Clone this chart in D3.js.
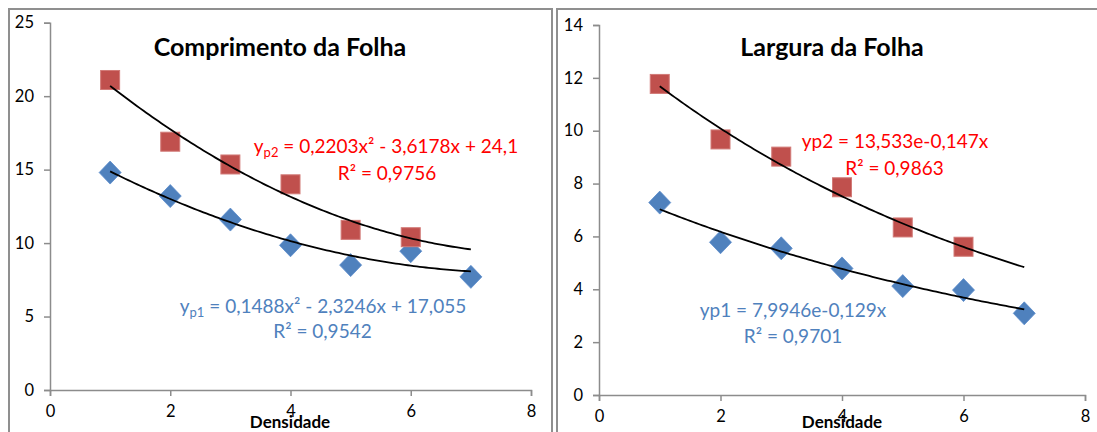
<!DOCTYPE html>
<html>
<head>
<meta charset="utf-8">
<script src="https://cdn.jsdelivr.net/npm/d3@7"></script>
<style>
  html, body { margin: 0; padding: 0; background: #ffffff; }
  svg { display: block; }
  text { font-family: Lato, "Open Sans", sans-serif; }
</style>
</head>
<body>
<script>
// ---------------- data ----------------
const densidade = [1, 2, 3, 4, 5, 6, 7];

const comprimentoP1 = [14.8, 13.2, 11.6, 9.85, 8.5, 9.45, 7.7];
const comprimentoP2 = [21.1, 16.9, 15.35, 14.0, 10.9, 10.4];
const larguraP1 = [7.28, 5.78, 5.55, 4.79, 4.12, 3.97, 3.09];
const larguraP2 = [11.77, 9.67, 9.02, 7.86, 6.34, 5.61];

// trendline coefficients as printed on the chart
const comprimentoTrendP1 = [0.1488, -2.3246, 17.055]; // a x^2 + b x + c
const comprimentoTrendP2 = [0.2203, -3.6178, 24.1];
const larguraTrendP1 = [7.9946, -0.129];              // a e^(b x)
const larguraTrendP2 = [13.533, -0.147];

const xTicks = [0, 2, 4, 6, 8];
const comprimentoYTicks = [0, 5, 10, 15, 20, 25];
const larguraYTicks = [0, 2, 4, 6, 8, 10, 12, 14];

const titles = ["Comprimento da Folha", "Largura da Folha"];
const xAxisTitle = "Densidade";

// ---------------- layout ----------------
const W = 1097, H = 432;
const svg = d3.select("body").append("svg").attr("width", W).attr("height", H);
svg.append("rect").attr("width", W).attr("height", H).attr("fill", "#fff");

const RED = "#c0504d", BLUE = "#4f81bd", RED_TXT = "#ff0000", BLUE_TXT = "#4f81bd";

const quad = c => x => c[0] * x * x + c[1] * x + c[2];
const expo = c => x => c[0] * Math.exp(c[1] * x);

const panels = [
  {
    frame: [9, 9, 543, 440],
    xr: [50, 531], yr: [390, 22.7], ymax: 25, yTicks: comprimentoYTicks,
    p1: comprimentoP1, p2: comprimentoP2,
    f1: quad(comprimentoTrendP1), f2: quad(comprimentoTrendP2),
    title: titles[0], titlePos: [280, 56],
    eq2: { parts: [["y", 0], ["p2", 1], [" = 0,2203x² - 3,6178x + 24,1", 2]], pos: [386, 153] },
    r2: { text: "R² = 0,9756", pos: [387, 180] },
    eq1: { parts: [["y", 0], ["p1", 1], [" = 0,1488x² - 2,3246x + 17,055", 2]], pos: [323, 313] },
    r1: { text: "R² = 0,9542", pos: [322.5, 338] },
    axisTitlePos: [290, 428]
  },
  {
    frame: [557, 9, 600, 440],
    xr: [599, 1085], yr: [395, 25], ymax: 14, yTicks: larguraYTicks,
    p1: larguraP1, p2: larguraP2,
    f1: expo(larguraTrendP1), f2: expo(larguraTrendP2),
    title: titles[1], titlePos: [832, 56],
    eq2: { parts: [["yp2 = 13,533e-0,147x", 0]], pos: [895, 148] },
    r2: { text: "R² = 0,9863", pos: [894.5, 175] },
    eq1: { parts: [["yp1 = 7,9946e-0,129x", 0]], pos: [793, 317] },
    r1: { text: "R² = 0,9701", pos: [793, 343] },
    axisTitlePos: [842, 428]
  }
];

panels.forEach(p => {
  const g = svg.append("g");
  // chart frame
  g.append("rect")
    .attr("x", p.frame[0]).attr("y", p.frame[1])
    .attr("width", p.frame[2]).attr("height", p.frame[3])
    .attr("fill", "#fff").attr("stroke", "#8f8f8f").attr("stroke-width", 2);

  const x = d3.scaleLinear().domain([0, 8]).range(p.xr);
  const y = d3.scaleLinear().domain([0, p.ymax]).range(p.yr);

  // axes
  const yAxis = d3.axisLeft(y).tickValues(p.yTicks).tickSize(6).tickPadding(10).tickFormat(d3.format("d"));
  const xAxis = d3.axisBottom(x).tickValues(xTicks).tickSize(6).tickPadding(9).tickFormat(d3.format("d"));

  const gy = g.append("g").attr("transform", `translate(${p.xr[0]},0)`).call(yAxis);
  const gx = g.append("g").attr("transform", `translate(0,${p.yr[0]})`).call(xAxis);
  [gx, gy].forEach(a => {
    a.select(".domain").attr("stroke", "#8c8c8c").attr("stroke-width", 1.5);
    a.selectAll(".tick line").attr("stroke", "#8c8c8c").attr("stroke-width", 1.5);
    a.selectAll(".tick text").attr("fill", "#000").style("font-size", "16.5px")
      .style("font-family", "Lato, 'Open Sans', sans-serif");
  });

  // series 1: blue diamonds
  const dh = 11.5, dw = 11;
  g.append("g").selectAll("path").data(p.p1).join("path")
    .attr("transform", (d, i) => `translate(${x(densidade[i])},${y(d)})`)
    .attr("d", `M0,${-dh}L${dw},0L0,${dh}L${-dw},0Z`)
    .attr("fill", BLUE).attr("stroke", "#5b8ccb").attr("stroke-width", 0.8);

  // series 2: red squares
  const sq = 19;
  g.append("g").selectAll("rect").data(p.p2).join("rect")
    .attr("x", (d, i) => x(densidade[i]) - sq / 2)
    .attr("y", d => y(d) - sq / 2)
    .attr("width", sq).attr("height", sq)
    .attr("fill", RED).attr("stroke", "#d27a77").attr("stroke-width", 1);

  // trendlines
  const line = d3.line().x(d => x(d[0])).y(d => y(d[1]));
  const xs = d3.range(1, 7.0001, 0.05);
  [p.f2, p.f1].forEach(f => {
    g.append("path").datum(xs.map(v => [v, f(v)]))
      .attr("d", line).attr("fill", "none").attr("stroke", "#000").attr("stroke-width", 1.8);
  });

  // title
  g.append("text").attr("x", p.titlePos[0]).attr("y", p.titlePos[1])
    .attr("text-anchor", "middle").style("font-size", "25px").style("font-weight", "bold")
    .attr("fill", "#000").text(p.title);

  // axis title
  g.append("text").attr("x", p.axisTitlePos[0]).attr("y", p.axisTitlePos[1])
    .attr("text-anchor", "middle").style("font-size", "17px").style("font-weight", "bold")
    .attr("fill", "#000").text(xAxisTitle);

  // equations
  const eq = (spec, color) => {
    const t = g.append("text").attr("x", spec.pos[0]).attr("y", spec.pos[1])
      .attr("text-anchor", "middle").style("font-size", "19px").attr("fill", color);
    spec.parts.forEach(([s, kind]) => {
      const ts = t.append("tspan").text(s);
      if (kind === 1) ts.style("font-size", "13px").attr("dy", 4);
      else if (kind === 2) ts.attr("dy", -4);
    });
  };
  eq(p.eq2, RED_TXT);
  eq(p.eq1, BLUE_TXT);
  [[p.r2, RED_TXT], [p.r1, BLUE_TXT]].forEach(([r, c]) => {
    g.append("text").attr("x", r.pos[0]).attr("y", r.pos[1])
      .attr("text-anchor", "middle").style("font-size", "19px").attr("fill", c).text(r.text);
  });
});
</script>
</body>
</html>
